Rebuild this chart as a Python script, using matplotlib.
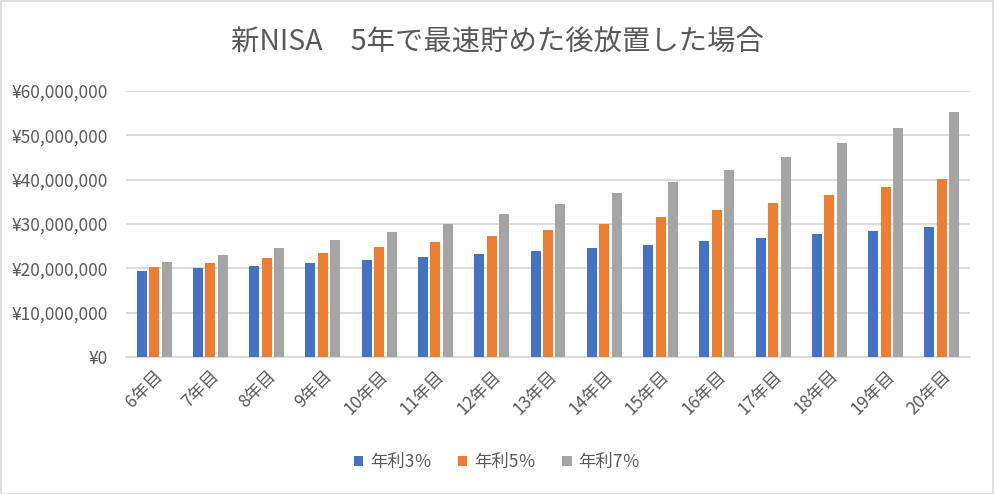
import matplotlib.pyplot as plt
from matplotlib.patches import Rectangle
from matplotlib.ticker import FuncFormatter
import numpy as np

plt.rcParams['font.family'] = ['Noto Sans CJK JP', 'DejaVu Sans']

# values (million yen)
years = ['6年目', '7年目', '8年目', '9年目', '10年目', '11年目', '12年目', '13年目',
         '14年目', '15年目', '16年目', '17年目', '18年目', '19年目', '20年目']
rate3 = [19.4, 20.0, 20.6, 21.2, 21.8, 22.5, 23.2, 23.9, 24.6, 25.3, 26.1, 26.9, 27.7, 28.5, 29.4]
rate5 = [20.3, 21.3, 22.4, 23.5, 24.7, 25.9, 27.2, 28.6, 30.0, 31.5, 33.1, 34.7, 36.5, 38.3, 40.2]
rate7 = [21.5, 23.0, 24.6, 26.3, 28.2, 30.1, 32.2, 34.5, 36.9, 39.5, 42.2, 45.2, 48.3, 51.7, 55.3]
series = [('年利3％', rate3, '#4472C4'),
          ('年利5％', rate5, '#ED7D31'),
          ('年利7％', rate7, '#A5A5A5')]

W, H = 994, 494
fig = plt.figure(figsize=(W / 100, H / 100), dpi=100)
fig.patches.append(Rectangle((0.5 / W, 0.5 / H), 1 - 1.5 / W, 1 - 1.5 / H,
                             transform=fig.transFigure, fill=False,
                             edgecolor='#D9D9D9', lw=1.2))

ax = fig.add_axes([126 / W, 1 - 357 / H, (970 - 126) / W, (357 - 91) / H])

x = np.arange(len(years))
bw = 0.178
step = 0.222
for i, (name, vals, col) in enumerate(series):
    ax.bar(x + (i - 1) * step, np.array(vals) * 1e6, width=bw, color=col,
           label=name, zorder=3)

ax.set_xlim(-0.5, len(years) - 0.5)
ax.set_ylim(0, 60e6)
ax.set_yticks(np.arange(0, 61e6, 10e6))
ax.yaxis.set_major_formatter(FuncFormatter(lambda v, p: '¥{:,.0f}'.format(v)))
ax.grid(axis='y', color='#D9D9D9', lw=1.3, zorder=0)
for s in ['top', 'right', 'left']:
    ax.spines[s].set_visible(False)
ax.spines['bottom'].set_color('#D9D9D9')
ax.spines['bottom'].set_linewidth(1.3)
ax.tick_params(axis='both', length=0, colors='#595959', labelsize=12.5)
ax.tick_params(axis='y', pad=13)
ax.set_xticks(x)
ax.set_xticklabels(years, rotation=45, ha='right', rotation_mode='anchor')
ax.tick_params(axis='x', pad=7)

fig.text(0.5, 1 - 42 / H, '新NISA　5年で最速貯めた後放置した場合', ha='center', va='center',
         fontsize=20.4, color='#595959')

leg = fig.legend(loc='center', bbox_to_anchor=(0.5, 1 - 462 / H), ncol=3,
                 frameon=False, fontsize=12.5, handlelength=0.55, handleheight=0.55,
                 handletextpad=0.4, columnspacing=1.5)
for t in leg.get_texts():
    t.set_color('#595959')

fig.savefig('out.png', dpi=100)
